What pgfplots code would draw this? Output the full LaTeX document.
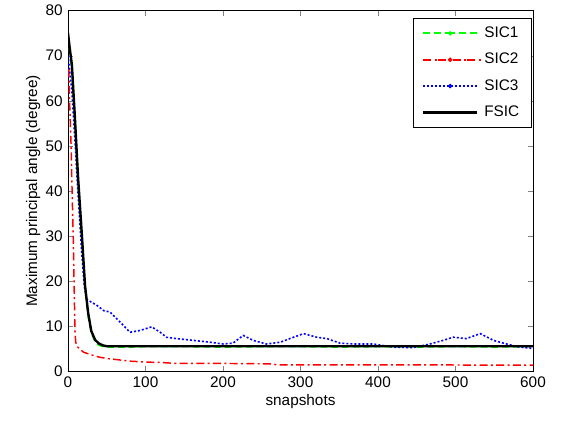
\documentclass[border=0pt]{standalone}
\usepackage{pgfplots}
\pgfplotsset{compat=1.18}
\usepackage{fontspec}
\setmainfont{Liberation Sans}
\definecolor{sicgreen}{RGB}{0,255,0}
\begin{document}
\fontsize{11.5}{13.5}\selectfont
\begin{tikzpicture}
\begin{axis}[
    scale only axis,
    width=348.75pt, height=270.75pt,
    xmin=0, xmax=600, ymin=0, ymax=80,
    xtick={0,100,...,600}, ytick={0,10,...,80},
    tick align=inside, major tick length=4pt,
    xtick pos=both, ytick pos=both,
    /pgf/number format/assume math mode=true,
    axis line style={line width=0.6pt},
    xlabel={snapshots},
    ylabel={Maximum principal angle (degree)},
    xlabel style={yshift=3pt},
    ylabel style={yshift=-4pt},
    legend cell align=left,
    legend style={at={(rel axis cs:0.997,0.978)}, anchor=north east,
      line width=0.6pt, row sep=6pt,
      inner xsep=7pt, inner ysep=4pt},
]
\addplot[color=sicgreen, dash pattern=on 5pt off 3pt, line width=1pt, forget plot] coordinates {
(0,74) (2,71) (5,66) (9,54) (13,41) (18,28) (22,18) (26,12) (30,8.5) (35,6.5)
(40,5.8) (45,5.5) (50,5.4) (80,5.4) (100,5.5) (150,5.5) (200,5.4) (250,5.5)
(300,5.5) (350,5.4) (400,5.5) (450,5.4) (500,5.5) (550,5.4) (600,5.5)};
\addplot[color=red, dash pattern=on 6pt off 2.5pt on 1.5pt off 2.5pt, line width=1.1pt, forget plot] coordinates {
(1,67) (2,60) (3,55) (4,50) (5,42) (6,35) (7,28) (8,18) (9,9) (10,6.5)
(12,5.5) (15,5) (20,4.3) (30,3.7) (40,3.2) (50,2.9) (60,2.7) (80,2.3)
(100,2.1) (120,2.0) (140,1.8) (200,1.8) (260,1.7) (270,1.5) (400,1.5) (600,1.4)};
\addplot[color=blue, dash pattern=on 1.5pt off 1.5pt, line width=1.2pt, forget plot] coordinates {
(0,70) (2,67) (5,62) (9,51) (13,39) (17,28) (21,19) (24,16) (26,15.8)
(37,14.7) (46,13.5) (54,13.2) (67,11) (80,8.7) (93,9.1) (108,9.9) (119,8.7)
(127,7.6) (140,7.3) (162,6.9) (183,6.5) (200,6.1) (213,6.3) (226,8) (239,6.9)
(256,6.1) (274,6.5) (291,7.6) (304,8.4) (321,7.6) (334,7.3) (351,6.3)
(368,6.1) (394,6.1) (420,5.4) (445,5.3) (467,6.1) (484,6.9) (497,7.6)
(514,7.3) (532,8.4) (549,6.9) (566,6.1) (583,5.4) (596,5.2) (600,5.0)};
\addplot[color=black, solid, line width=1.8pt, forget plot] coordinates {
(0,75) (2,72) (5,68) (9,56) (13,43) (18,30) (22,19) (26,13) (30,9) (35,7)
(40,6.2) (45,5.8) (50,5.6) (100,5.6) (200,5.6) (300,5.6) (400,5.6) (500,5.6) (600,5.6)};
\addlegendimage{legend image code/.code={%
  \draw[sicgreen, line width=1.4pt] (0pt,0pt) -- ++(5pt,0pt) ++(3pt,0pt) -- ++(5pt,0pt)
    ++(3pt,0pt) -- ++(8pt,0pt) ++(3pt,0pt) -- ++(5pt,0pt) ++(3pt,0pt) -- ++(5pt,0pt);
  \fill[sicgreen] (20pt,0pt) circle (1.4pt);}}
\addlegendentry{SIC1}
\addlegendimage{legend image code/.code={%
  \foreach \a in {0,11,22,33}
    \draw[red, line width=1.2pt] (\a pt,0pt) -- ++(6pt,0pt) ++(2.5pt,0pt) -- ++(1.5pt,0pt);
  \fill[red] (20pt,0pt) circle (1.4pt);}}
\addlegendentry{SIC2}
\addlegendimage{legend image code/.code={%
  \draw[blue, line width=1.2pt, dash pattern=on 1.5pt off 1.5pt] (0pt,0pt) -- (40pt,0pt);
  \fill[blue] (20pt,0pt) circle (1.4pt);}}
\addlegendentry{SIC3}
\addlegendimage{legend image code/.code={%
  \draw[black, line width=1.8pt] (0pt,0pt) -- (40pt,0pt);}}
\addlegendentry{FSIC}
\end{axis}
\useasboundingbox ([shift={(-51pt,-41.25pt)}]current axis.south west) rectangle ([shift={(23.25pt,5.25pt)}]current axis.north east);
\end{tikzpicture}
\end{document}
